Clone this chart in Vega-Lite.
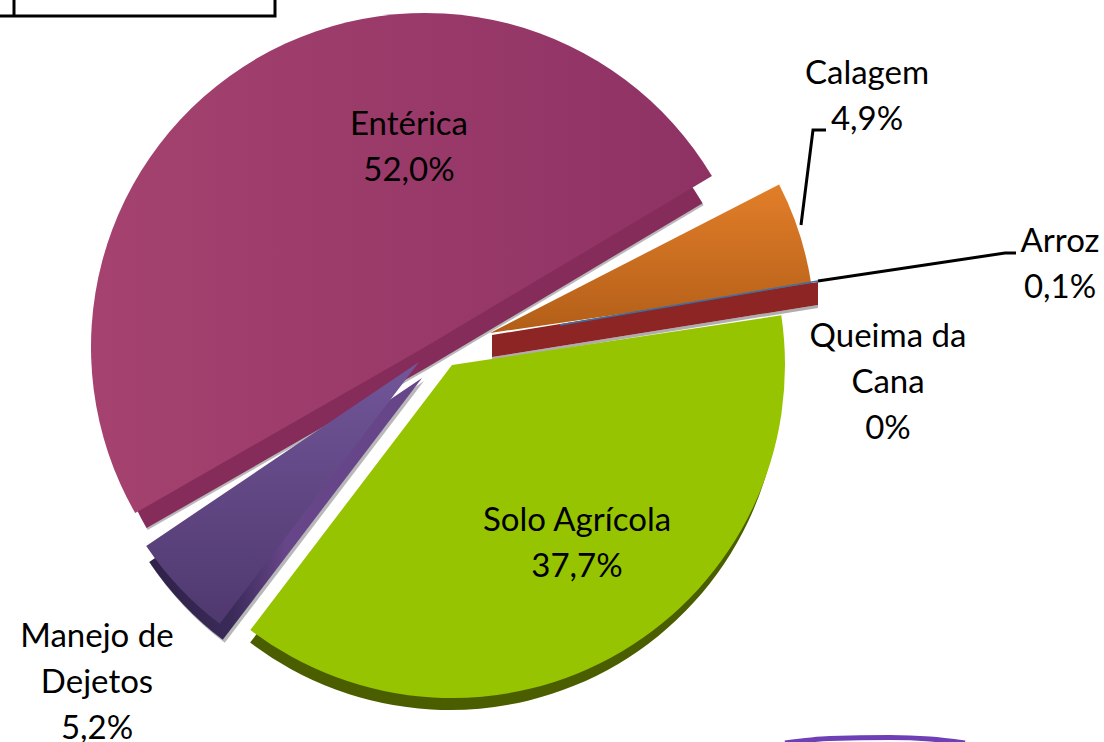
{
"$schema":"https://vega.github.io/schema/vega-lite/v6.json",
"width":1104,"height":742,"autosize":"none","padding":0,
"background":"white",
"config":{"view":{"stroke":null},"text":{"font":"Lato"}},
"datasets":{
"guides":[
{"g":"box","i":1,"px":0,"py":16},{"g":"box","i":2,"px":275,"py":16},{"g":"box","i":3,"px":275,"py":0},
{"g":"boxtick","i":1,"px":14,"py":0},{"g":"boxtick","i":2,"px":14,"py":16},
{"g":"calagem","i":1,"px":801,"py":225},{"g":"calagem","i":2,"px":813,"py":130},{"g":"calagem","i":3,"px":826,"py":130},
{"g":"arroz","i":1,"px":818,"py":281},{"g":"arroz","i":2,"px":1005,"py":253},{"g":"arroz","i":3,"px":1016,"py":253}
],
"band":[{"px":492,"py":335,"py2":357,"py3":360},{"px":818,"py":282,"py2":305,"py3":308}],
"blue":[{"px":560,"py":325},{"px":818,"py":281}],
"swoosh":[{"px":785,"py":743},{"px":830,"py":738.5},{"px":890,"py":737.5},{"px":930,"py":739},{"px":965,"py":743}]
},
"data":{"values":[
{"rank":1,"name":"Calagem","share":4.9,"pct":"4,9%"},
{"rank":2,"name":"Arroz","share":0.1,"pct":"0,1%"},
{"rank":3,"name":"Queima da\nCana","share":0,"pct":"0%"},
{"rank":4,"name":"Solo Agrícola","share":37.7,"pct":"37,7%"},
{"rank":5,"name":"Manejo de\nDejetos","share":5.2,"pct":"5,2%"},
{"rank":6,"name":"Entérica","share":52.0,"pct":"52,0%"}
]},
"transform":[
{"stack":"share","groupby":[],"sort":[{"field":"rank","order":"ascending"}],"as":["v0","v1"]},
{"calculate":"datum.name + '\\n' + datum.pct","as":"caption"}
],
"encoding":{
"theta":{"field":"v0","type":"quantitative","stack":null,"scale":{"domain":[0,99.9],"range":[1.1065,7.3897]}},
"theta2":{"field":"v1"}
},
"layer":[
{"transform":[{"filter":"datum.rank==6"}],"mark":{"type":"arc","radius":322,"xOffset":-125,"yOffset":-1,"thetaOffset":0.073,"theta2Offset":-0.073,"fill":"#9A9A9A","opacity":0.7}},
{"transform":[{"filter":"datum.rank==6"}],"mark":{"type":"arc","radius":322,"xOffset":-126,"yOffset":-3,"thetaOffset":0.073,"theta2Offset":-0.073,"fill":"#862C5B"}},
{"transform":[{"filter":"datum.rank==6"}],"mark":{"type":"arc","radius":334,"xOffset":-127,"yOffset":-24,"thetaOffset":0.073,"theta2Offset":-0.073,"fill":{"gradient":"linear","x1":0,"y1":0,"x2":1,"y2":0,"stops":[{"offset":0,"color":"#A5426F"},{"offset":1,"color":"#8E3264"}]}}},
{"transform":[{"filter":"datum.rank==5"}],"mark":{"type":"arc","radius":329,"xOffset":-128,"yOffset":10,"fill":"#9A9A9A","opacity":0.7}},
{"transform":[{"filter":"datum.rank==5"}],"mark":{"type":"arc","radius":329,"xOffset":-130,"yOffset":7,"fill":{"gradient":"linear","x1":0,"y1":0,"x2":1,"y2":0,"stops":[{"offset":0,"color":"#2F2148"},{"offset":0.3,"color":"#3A2A58"},{"offset":0.5,"color":"#674589"},{"offset":1,"color":"#674589"}]}}},
{"transform":[{"filter":"datum.rank==5"}],"mark":{"type":"arc","radius":329,"xOffset":-133,"yOffset":-9,"fill":{"gradient":"linear","x1":0,"y1":0,"x2":0,"y2":1,"stops":[{"offset":0,"color":"#725699"},{"offset":1,"color":"#4F386E"}]}}},
{"transform":[{"filter":"datum.rank==1"}],"mark":{"type":"arc","radius":325,"xOffset":-62,"yOffset":-38,"thetaOffset":-0.01,"theta2Offset":0.012,"fill":{"gradient":"linear","x1":0,"y1":0,"x2":0,"y2":1,"stops":[{"offset":0,"color":"#E27E29"},{"offset":1,"color":"#B25E18"}]}}},
{"data":{"name":"band"},"encoding":{"theta":null,"theta2":null,"x":{"field":"px","type":"quantitative","scale":{"domain":[0,1104]},"axis":null},"y":{"field":"py2","type":"quantitative","scale":{"domain":[742,0]},"axis":null},"y2":{"field":"py3"}},"mark":{"type":"area","fill":"#9A9A9A","opacity":0.8}},
{"data":{"name":"band"},"encoding":{"theta":null,"theta2":null,"x":{"field":"px","type":"quantitative","scale":{"domain":[0,1104]},"axis":null},"y":{"field":"py","type":"quantitative","scale":{"domain":[742,0]},"axis":null},"y2":{"field":"py2"}},"mark":{"type":"area","fill":"#8E2525"}},
{"data":{"name":"blue"},"encoding":{"theta":null,"theta2":null,"x":{"field":"px","type":"quantitative","scale":{"domain":[0,1104]},"axis":null},"y":{"field":"py","type":"quantitative","scale":{"domain":[742,0]},"axis":null}},"mark":{"type":"line","stroke":"#3B6FA8","strokeWidth":1.5}},
{"transform":[{"filter":"datum.rank==4"}],"mark":{"type":"arc","radius":330,"xOffset":-102,"yOffset":9,"fill":"#4A5E00"}},
{"transform":[{"filter":"datum.rank==4"}],"mark":{"type":"arc","radius":333,"xOffset":-100,"yOffset":-6,"fill":"#97C400"}},
{"data":{"name":"guides"},"encoding":{"theta":null,"theta2":null,"x":{"field":"px","type":"quantitative","scale":{"domain":[0,1104]},"axis":null},"y":{"field":"py","type":"quantitative","scale":{"domain":[742,0]},"axis":null},"detail":{"field":"g"},"order":{"field":"i"}},"mark":{"type":"line","stroke":"black","strokeWidth":3}},
{"data":{"name":"swoosh"},"encoding":{"theta":null,"theta2":null,"x":{"field":"px","type":"quantitative","scale":{"domain":[0,1104]},"axis":null},"y":{"field":"py","type":"quantitative","scale":{"domain":[742,0]},"axis":null}},"mark":{"type":"line","stroke":"#6F3FB5","strokeWidth":5,"interpolate":"monotone"}},
{"transform":[{"filter":"datum.rank==6"}],"encoding":{"theta":null,"theta2":null,"text":{"field":"caption"}},"mark":{"type":"text","lineBreak":"\n","fontSize":33,"lineHeight":46,"color":"black","xOffset":-143,"yOffset":-246}},
{"transform":[{"filter":"datum.rank==1"}],"encoding":{"theta":null,"theta2":null,"text":{"field":"caption"}},"mark":{"type":"text","lineBreak":"\n","fontSize":33,"lineHeight":46,"color":"black","xOffset":315,"yOffset":-297}},
{"transform":[{"filter":"datum.rank==2"}],"encoding":{"theta":null,"theta2":null,"text":{"field":"caption"}},"mark":{"type":"text","lineBreak":"\n","fontSize":33,"lineHeight":46,"color":"black","xOffset":508,"yOffset":-129}},
{"transform":[{"filter":"datum.rank==3"}],"encoding":{"theta":null,"theta2":null,"text":{"field":"caption"}},"mark":{"type":"text","lineBreak":"\n","fontSize":33,"lineHeight":46,"color":"black","xOffset":336,"yOffset":-34}},
{"transform":[{"filter":"datum.rank==4"}],"encoding":{"theta":null,"theta2":null,"text":{"field":"caption"}},"mark":{"type":"text","lineBreak":"\n","fontSize":33,"lineHeight":46,"color":"black","xOffset":25,"yOffset":150}},
{"transform":[{"filter":"datum.rank==5"}],"encoding":{"theta":null,"theta2":null,"text":{"field":"caption"}},"mark":{"type":"text","lineBreak":"\n","fontSize":33,"lineHeight":46,"color":"black","xOffset":-455,"yOffset":266}}
]
}
